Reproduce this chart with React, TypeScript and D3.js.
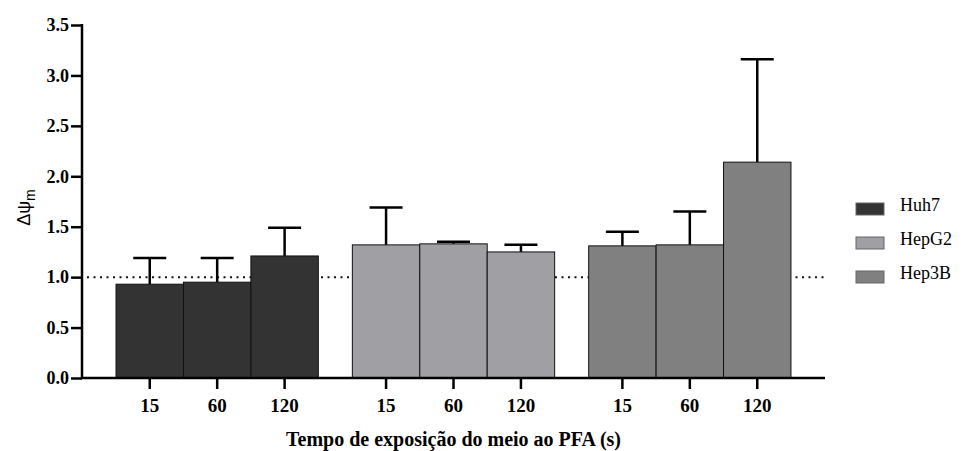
import React, { useRef, useEffect } from "react";
import * as d3 from "d3";

const cellLines = ["Huh7", "HepG2", "Hep3B"];
const times = ["15", "60", "120"];
const means = [
  [0.93, 0.95, 1.21],
  [1.32, 1.33, 1.25],
  [1.31, 1.32, 2.14],
];
const upper = [
  [1.19, 1.19, 1.49],
  [1.69, 1.35, 1.32],
  [1.45, 1.65, 3.16],
];
const colors = ["#333333", "#a0a0a4", "#808080"];
const yTicks = [0, 0.5, 1, 1.5, 2, 2.5, 3, 3.5];

export default function App() {
  const ref = useRef<SVGSVGElement>(null);

  useEffect(() => {
    const svg = d3.select(ref.current);
    svg.selectAll("*").remove();

    const left = 82, right = 825, top = 25, bottom = 378;
    const serif = "Liberation Serif, Times New Roman, DejaVu Serif, serif";

    const y = d3.scaleLinear().domain([0, 3.5]).range([bottom, top]);
    const xg = d3.scaleBand().domain(cellLines).range([left, right]).paddingInner(0.144).paddingOuter(0.144);
    const xt = d3.scaleBand().domain(times).range([0, xg.bandwidth()]);

    // reference line at 1.0
    svg.append("line")
      .attr("x1", left + 5).attr("x2", right)
      .attr("y1", y(1)).attr("y2", y(1))
      .attr("stroke", "#111").attr("stroke-width", 2)
      .attr("stroke-dasharray", "2 4.5");

    const rows = cellLines.flatMap((c, i) =>
      times.map((t, j) => ({ c, t, i, v: means[i][j], hi: upper[i][j] }))
    );

    const g = svg.append("g");
    // error bars
    rows.forEach((d) => {
      const cx = xg(d.c)! + xt(d.t)! + xt.bandwidth() / 2;
      g.append("line")
        .attr("x1", cx).attr("x2", cx)
        .attr("y1", y(d.v)).attr("y2", y(d.hi))
        .attr("stroke", "#000").attr("stroke-width", 2.5);
      g.append("line")
        .attr("x1", cx - 16.5).attr("x2", cx + 16.5)
        .attr("y1", y(d.hi)).attr("y2", y(d.hi))
        .attr("stroke", "#000").attr("stroke-width", 2.5);
    });

    g.selectAll("rect.bar")
      .data(rows)
      .enter()
      .append("rect")
      .attr("class", "bar")
      .attr("x", (d) => xg(d.c)! + xt(d.t)!)
      .attr("width", xt.bandwidth())
      .attr("y", (d) => y(d.v))
      .attr("height", (d) => y(0) - y(d.v))
      .attr("fill", (d) => colors[d.i])
      .attr("stroke", "#111")
      .attr("stroke-width", 1);

    // y axis
    const ya = svg.append("g").attr("transform", `translate(${left},0)`)
      .call(d3.axisLeft(y).tickValues(yTicks).tickFormat(d3.format(".1f")).tickSize(11).tickPadding(2));
    ya.select(".domain").attr("stroke", "#000").attr("stroke-width", 2.5).attr("d", `M0,${top - 1}V${bottom + 1}`);
    ya.selectAll(".tick line").attr("stroke", "#000").attr("stroke-width", 2.5);
    ya.selectAll(".tick text")
      .style("font-family", serif).style("font-weight", "bold").style("font-size", "18px").attr("fill", "#000");

    // x axis
    const xa = svg.append("g");
    xa.append("line")
      .attr("x1", left - 1).attr("x2", right)
      .attr("y1", bottom).attr("y2", bottom)
      .attr("stroke", "#000").attr("stroke-width", 2.5);
    rows.forEach((d) => {
      const cx = xg(d.c)! + xt(d.t)! + xt.bandwidth() / 2;
      xa.append("line")
        .attr("x1", cx).attr("x2", cx)
        .attr("y1", bottom).attr("y2", bottom + 11)
        .attr("stroke", "#000").attr("stroke-width", 2.5);
      xa.append("text")
        .attr("x", cx).attr("y", 412)
        .attr("text-anchor", "middle")
        .style("font-family", serif).style("font-weight", "bold").style("font-size", "19px")
        .text(d.t);
    });

    svg.append("text")
      .attr("x", (left + right) / 2).attr("y", 446)
      .attr("text-anchor", "middle")
      .style("font-family", serif).style("font-weight", "bold").style("font-size", "20px")
      .text("Tempo de exposição do meio ao PFA (s)");

    const yl = svg.append("text")
      .attr("transform", `translate(30,${(top + bottom) / 2 + 6}) rotate(-90)`)
      .attr("text-anchor", "middle")
      .style("font-family", "Liberation Sans, Arial, sans-serif")
      .style("font-size", "18px");
    yl.append("tspan").text("Δψ");
    yl.append("tspan").style("font-size", "14px").attr("dy", 5).text("m");

    // legend
    const lg = svg.append("g");
    cellLines.forEach((c, i) => {
      const base = 211 + i * 34;
      lg.append("rect")
        .attr("x", 856).attr("y", base - 8).attr("width", 28).attr("height", 12)
        .attr("fill", colors[i]).attr("stroke", "#666").attr("stroke-width", 1);
      lg.append("text")
        .attr("x", 900).attr("y", base)
        .style("font-family", serif).style("font-size", "18px")
        .text(c);
    });
  }, []);

  return (
    <svg
      ref={ref}
      width={963}
      height={451}
      style={{ position: "absolute", left: 0, top: 0, background: "#fff" }}
    />
  );
}
